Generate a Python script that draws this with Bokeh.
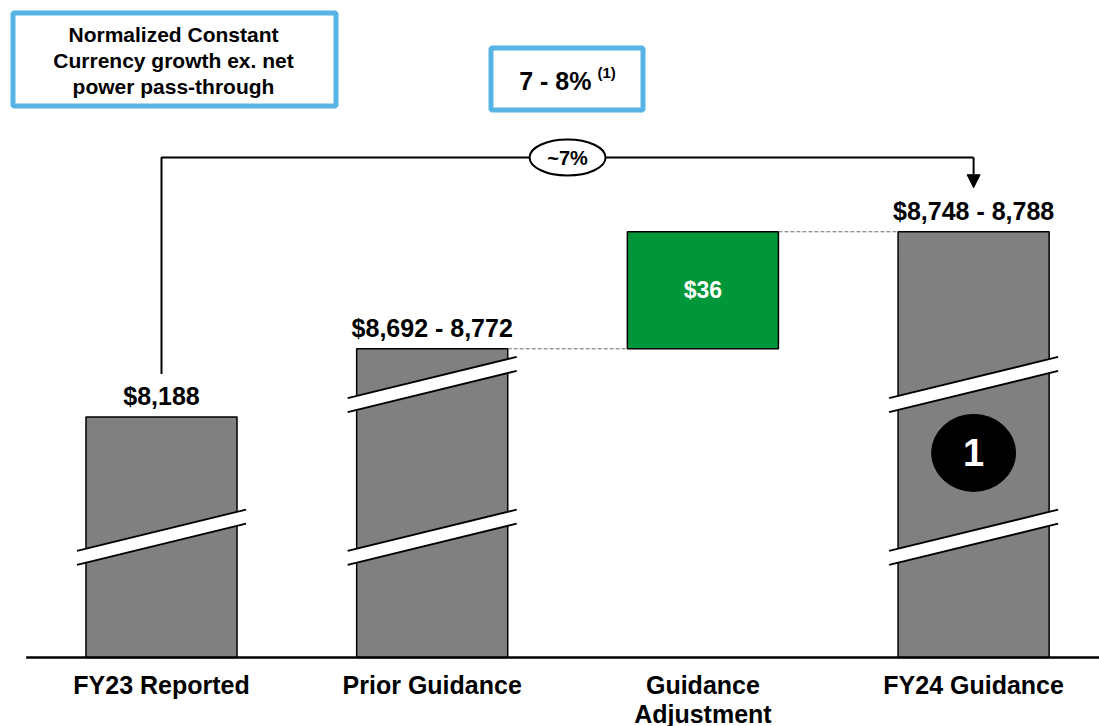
from bokeh.plotting import figure
from bokeh.models import Range1d, Arrow, NormalHead
from bokeh.core.properties import value
from bokeh.embed import file_html
from bokeh.resources import INLINE

# ---- data ($ millions) ----
category_labels = ["FY23 Reported", "Prior Guidance", "Guidance\nAdjustment", "FY24 Guidance"]
total_positions = [0, 1, 3]
total_low = [8188, 8692, 8748]
total_high = [8188, 8772, 8788]
adjustment_position = 2
adjustment_value = 36
growth_bracket_label = "~7%"
callout_title = ["Normalized Constant", "Currency growth ex. net", "power pass-through"]
callout_growth = "7 - 8%"
callout_note = "(1)"
badge_label = "1"

# ---- broken value axis ----
PX_PER_DOLLAR = 3.25
AXIS_CUTS = [(37, 8151), (8198, 8721)]  # value spans omitted by the axis breaks


def to_px(v):
    hidden = sum(min(max(v - lo, 0), hi - lo) for lo, hi in AXIS_CUTS)
    return (v - hidden) * PX_PER_DOLLAR


def fmt(v):
    return f"{v:,.0f}"


X_UNIT = 270.7          # screen px per category slot
X0 = 161.0              # screen px of the first category centre
BAR_W = 0.558
FONT = value("Liberation Sans")


def sx(px):
    return (px - X0) / X_UNIT


mid = [(lo + hi) / 2 for lo, hi in zip(total_low, total_high)]
tops = [to_px(m) for m in mid]
labels = ["$" + fmt(lo) if lo == hi else "$" + fmt(lo) + " - " + fmt(hi)
          for lo, hi in zip(total_low, total_high)]

p = figure(width=1099, height=726, output_backend="svg", toolbar_location=None,
           x_axis_type=None, y_axis_type=None, min_border=0,
           x_range=Range1d(sx(0), sx(1099)), y_range=Range1d(-69, 657))
p.outline_line_color = None
p.background_fill_color = "white"

# total bars
p.vbar(x=total_positions, width=BAR_W, bottom=0, top=tops,
       fill_color="#808080", line_color="black", line_width=1.5)

# adjustment bar
adj_bottom = to_px(mid[1])
adj_top = to_px(mid[1] + adjustment_value)
p.vbar(x=[adjustment_position], width=BAR_W, bottom=[adj_bottom], top=[adj_top],
       fill_color="#00973A", line_color="black", line_width=1.5)

# connectors
p.segment(x0=[1 + BAR_W / 2, 2 + BAR_W / 2], y0=[adj_bottom, adj_top],
          x1=[2 - BAR_W / 2, 3 - BAR_W / 2], y1=[adj_bottom, tops[2]],
          line_color="#6e6e6e", line_width=1, line_dash="4 2")

# axis break marks
half_ext = (BAR_W / 2) + 9 / X_UNIT
rise = 20.6
gap = 7
for xc, top in zip(total_positions, tops):
    for lo, hi in AXIS_CUTS:
        yc = to_px(lo)
        if top <= yc + 30:
            continue
        xl, xr = xc - half_ext, xc + half_ext
        p.patch(x=[xl, xr, xr, xl],
                y=[yc - rise - gap, yc + rise - gap, yc + rise + gap, yc - rise + gap],
                fill_color="white", line_color=None)
        p.multi_line(xs=[[xl, xr], [xl, xr]],
                     ys=[[yc - rise - gap, yc + rise - gap], [yc - rise + gap, yc + rise + gap]],
                     line_color="black", line_width=2)

# baseline
p.line(x=[-0.5, sx(1099)], y=[0, 0], line_color="black", line_width=2.5)

# value labels
p.text(x=total_positions, y=[t + 21 for t in tops], text=labels,
       text_align="center", text_baseline="middle",
       text_font=FONT, text_font_style="bold", text_font_size="25px", text_color="black")
p.text(x=[adjustment_position], y=[(adj_bottom + adj_top) / 2], text=["$" + fmt(adjustment_value)],
       text_align="center", text_baseline="middle",
       text_font=FONT, text_font_style="bold", text_font_size="23px", text_color="white")

# category labels, one text row per line
cat_x, cat_y, cat_t = [], [], []
for i, lab in enumerate(category_labels):
    for j, line in enumerate(lab.split("\n")):
        cat_x.append(i)
        cat_y.append(-27 - 29 * j)
        cat_t.append(line)
p.text(x=cat_x, y=cat_y, text=cat_t,
       text_align="center", text_baseline="middle",
       text_font=FONT, text_font_style="bold", text_font_size="25px", text_color="black")

# growth bracket
bracket_y = 500
p.line(x=[0, 0, 3], y=[tops[0] + 43, bracket_y, bracket_y], line_color="black", line_width=2)
p.add_layout(Arrow(end=NormalHead(size=13, fill_color="black", line_color="black"),
                   x_start=3, y_start=bracket_y, x_end=3, y_end=tops[2] + 44,
                   line_color="black", line_width=2))
p.ellipse(x=[1.5], y=[bracket_y], width=76, height=36, width_units="screen", height_units="screen",
          fill_color="white", line_color="black", line_width=2)
p.text(x=[1.5], y=[bracket_y], text=[growth_bracket_label], text_align="center", text_baseline="middle",
       text_font=FONT, text_font_style="bold", text_font_size="20px", text_color="black")

# numbered badge
badge_y = (to_px(AXIS_CUTS[0][0]) + to_px(AXIS_CUTS[1][0])) / 2 + 8
p.ellipse(x=[3], y=[badge_y], width=84, height=77, width_units="screen", height_units="screen",
          fill_color="black", line_color="black")
p.text(x=[3], y=[badge_y], text=[badge_label], text_align="center", text_baseline="middle",
       text_font=FONT, text_font_style="bold", text_font_size="38px", text_color="white")

# call-out boxes
BLUE = "#57B5E5"
p.quad(left=[sx(12.5), sx(490.5)], right=[sx(335.5), sx(642.5)],
       top=[644.5, 609.5], bottom=[551.5, 547.5],
       fill_color="white", line_color=BLUE, line_width=5)
p.text(x=[sx(173)] * 3, y=[623, 597, 571], text=callout_title,
       text_align="center", text_baseline="middle",
       text_font=FONT, text_font_style="bold", text_font_size="21px", text_color="black")
p.text(x=[sx(591)], y=[577], text=[callout_growth], text_align="right", text_baseline="middle",
       text_font=FONT, text_font_style="bold", text_font_size="25px", text_color="black")
p.text(x=[sx(597)], y=[585], text=[callout_note], text_align="left", text_baseline="middle",
       text_font=FONT, text_font_style="bold", text_font_size="15px", text_color="black")

open("out.html", "w").write(file_html(p, INLINE))
